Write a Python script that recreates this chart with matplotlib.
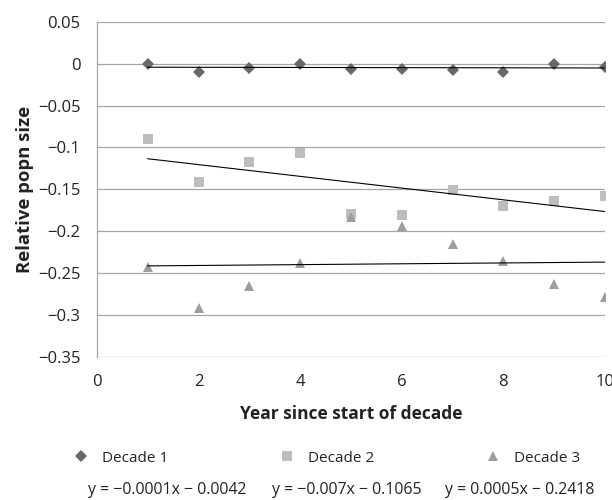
import numpy as np
import matplotlib
matplotlib.use("Agg")
import matplotlib.pyplot as plt
from matplotlib.ticker import FuncFormatter

plt.rcParams['font.family'] = ['Open Sans', 'DejaVu Sans']

years = [1, 2, 3, 4, 5, 6, 7, 8, 9, 10]
decade1 = [0.0, -0.0096, -0.0048, -0.0008, -0.0068, -0.0068, -0.0080, -0.0100, 0.0, -0.0044]
decade2 = [-0.0897, -0.1408, -0.1177, -0.1065, -0.1794, -0.1806, -0.1504, -0.1695, -0.1635, -0.1575]
decade3 = [-0.2421, -0.2910, -0.2652, -0.2373, -0.1835, -0.1940, -0.2153, -0.2353, -0.2632, -0.2780]

# trendline coefficients (slope, intercept) as printed on the chart
slopes = [-0.0001, -0.007, 0.0005]
intercepts = [-0.0042, -0.1065, -0.2418]
names = ['Decade 1', 'Decade 2', 'Decade 3']

colors = ['#686868', '#bdbdbd', '#9d9d9d']
markers = ['D', 's', '^']
msizes = [6.0, 7.5, 7.0]
txt = '#222222'

fig = plt.figure(figsize=(6.12, 5.0), dpi=100)
ax = fig.add_axes([0.1585, 0.286, 0.8301, 0.6706])

series = [decade1, decade2, decade3]
handles = []
for ys, c, m, ms, name in zip(series, colors, markers, msizes, names):
    h, = ax.plot(years, ys, linestyle='none', marker=m, color=c, markersize=ms,
                 markeredgewidth=0, label=name, zorder=3)
    handles.append(h)

xs = np.array([years[0], years[-1]])
for k, b in zip(slopes, intercepts):
    ax.plot(xs, k * xs + b, color='black', linewidth=0.8, zorder=4)

ax.set_xlim(0, 10)
ax.set_ylim(-0.35, 0.05)
ax.set_xticks(range(0, 11, 2))
ax.set_yticks(np.arange(-0.35, 0.051, 0.05))


def fmt(v, pos):
    s = '%g' % round(v, 4)
    if s == '-0':
        s = '0'
    return s.replace('-', '\u2212')


ax.yaxis.set_major_formatter(FuncFormatter(fmt))
ax.grid(axis='y', color='#a6a6a6', linewidth=0.9)
ax.set_axisbelow(True)
for sp in ['top', 'right', 'bottom']:
    ax.spines[sp].set_visible(False)
ax.spines['left'].set_color('#a6a6a6')
ax.spines['left'].set_linewidth(0.9)
ax.tick_params(length=0, labelsize=12, colors=txt, pad=12)

ax.set_xlabel('Year since start of decade', fontsize=12.5, fontweight='bold',
              color=txt, labelpad=11)
ax.set_ylabel('Relative popn size', fontsize=13.3, fontweight='bold',
              color=txt, labelpad=3)

fig.legend(handles=handles, loc='center left', bbox_to_anchor=(0.12, 0.084),
           ncol=3, frameon=False, fontsize=11, handlelength=1.0,
           handletextpad=0.88, columnspacing=7.25, borderpad=0,
           borderaxespad=0, labelcolor=txt)

eq_x = [0.1438, 0.444, 0.727]
for x, k, b in zip(eq_x, slopes, intercepts):
    sk = ('%g' % k).replace('-', '\u2212')
    sb = '\u2212 %g' % abs(b) if b < 0 else '+ %g' % b
    fig.text(x, 0.019, 'y = %sx %s' % (sk, sb), fontsize=11.4,
             color=txt, va='center')

fig.savefig('out.png', dpi=100)
